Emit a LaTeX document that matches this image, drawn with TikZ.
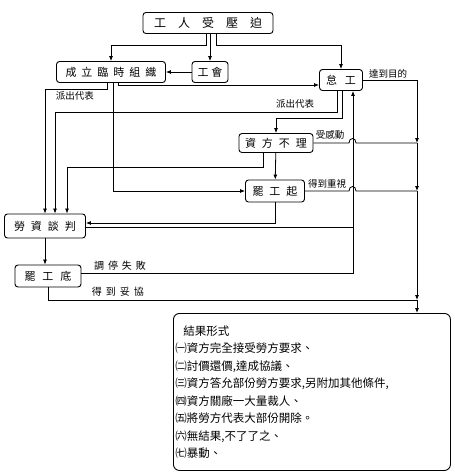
\documentclass[tikz,border=0pt]{standalone}
\usepackage{fontspec}
\setmainfont{Noto Sans CJK TC}
\usetikzlibrary{arrows.meta}

\begin{document}
\begin{tikzpicture}[x=1pt,y=-1pt,line width=0.8pt,
	box/.style={draw, rounded corners=3pt, line width=0.9pt, fill=white, inner sep=2pt, minimum height=21pt, font=\fontsize{11}{11}\selectfont},
	lbl/.style={inner sep=0pt, font=\fontsize{9.5}{9.5}\selectfont},
	arr/.style={-{Latex[length=5pt,width=4pt]}}]

		\useasboundingbox (0,0) rectangle (455,475);

		\node [box, minimum width=130pt, font=\fontsize{12}{12}\selectfont] (oppr) at (208,23){工\quad 人\quad 受\quad 壓\quad 迫};
		\node [box, minimum width=109pt] (org) at (111,72){成\hspace{5pt}立\hspace{5pt}臨\hspace{5pt}時\hspace{5pt}組\hspace{5pt}織};
		\node [box, minimum width=36pt] (union) at (210,72){工\hspace{3pt}會};
		\node [box, minimum width=43pt] (slow) at (341,80){怠\hspace{8pt}工};
		\node [box, minimum width=74pt, minimum height=19pt] (yield) at (276,143){資\hspace{6pt}方\hspace{6pt}不\hspace{6pt}理};
		\node [box, minimum width=59pt, minimum height=22pt] (strike) at (275,191){罷\hspace{6pt}工\hspace{6pt}起};
		\node [box, minimum width=81pt, minimum height=24pt] (talks) at (45,226){勞\hspace{6pt}資\hspace{6pt}談\hspace{6pt}判};
		\node [box, minimum width=66pt, minimum height=22pt] (strike2) at (48,276){罷\hspace{7pt}工\hspace{7pt}底};
		\node [box, rounded corners=6pt, minimum width=277pt, minimum height=157pt, anchor=north west] (result) at (173,313){};

		\node [anchor=north west, align=left, inner sep=0pt, font=\fontsize{11.5}{17.5}\selectfont] (forms) at (175,325){\hspace{8pt}結果形式\\
			㈠資方完全接受勞方要求、\\
			㈡討價還價,達成協議、\\
			㈢資方答允部份勞方要求,另附加其他條件,\\
			㈣資方關廠一大量裁人、\\
			㈤將勞方代表大部份開除。\\
			㈥無結果,不了了之、\\
			㈦暴動、};

		\coordinate (m1) at (417,143);
		\coordinate (m2) at (417,191);
		\coordinate (m3) at (417,300);
		\coordinate (c1) at (353,273);
		\coordinate (j1) at (353,227);

		% from the top
		\draw [arr] ([xshift=-2pt]oppr.south) -- ++(0,11) -| (org.north);
		\draw [arr] (oppr.south -| union) -- (union.north);
		\draw [arr] ([xshift=8pt]oppr.south) -- ++(0,11) -| (slow.north);
		\draw [arr] (union) -- (org);

		% from org
		\draw [arr] ([xshift=-4pt]org.south) -- ++(0,6) -| (talks.north);
		\draw [arr] ([xshift=2pt]org.south) |- (strike.west);
		\draw [arr] ([xshift=7pt]org.south) |- ([yshift=-5pt]slow.west);
		\node [lbl] (rep1) at (75,96){派出代表};

		% from slow
		\draw [arr] ([xshift=-4pt]slow.south) -- ++(0,21) -| ([xshift=10pt]talks.north);
		\draw [arr] ([xshift=1pt]slow.south) -- ++(0,27) -| (yield.north);
		\draw [arr] (slow.east) -| (m1);
		\node [lbl] (rep2) at (295,104){派出代表};
		\node [lbl] (goal) at (388,74){達到目的};

		% right side
		\draw [arr] (m1) -- (m2);
		\draw [arr] (m2) -- (m3);
		\draw [arr] (m3) -- (result.north -| m3);

		% from yield
		\draw (yield.east) -- (349,143) .. controls (349,137) and (356,137) .. (356,143) -- (m1);
		\draw [arr] (yield) -- (strike);
		\draw [arr] ([xshift=-13pt]yield.south) -- ++(0,14) -| ([xshift=22pt]talks.north);
		\node [lbl] (moved) at (330,135){受感動};

		% from strike
		\draw (strike.east) -- (349,191) .. controls (349,185) and (356,185) .. (356,191) -- (m2);
		\draw [arr] (strike.south) |- ([yshift=3pt]talks.east);
		\node [lbl] (heed) at (327,184){得到重視};

		% from talks and strike2
		\draw [arr] (talks.south) -- (talks.south |- strike2.north);
		\draw [arr] ([yshift=3pt]strike2.east) -| (slow.south -| c1);
		\draw (j1) -- (j1 -| talks.east);
		\draw (strike2.south) |- (m3);
		\node [lbl, font=\fontsize{10}{10}\selectfont] (fail) at (120,266){調\hspace{4pt}停\hspace{4pt}失\hspace{4pt}敗};
		\node [lbl, font=\fontsize{10}{10}\selectfont] (deal) at (118,292){得\hspace{4pt}到\hspace{4pt}妥\hspace{4pt}協};

\end{tikzpicture}
\end{document}
